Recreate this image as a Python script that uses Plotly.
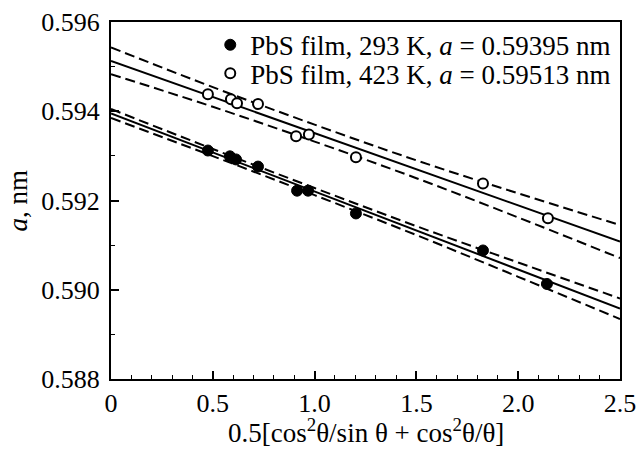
import plotly.graph_objects as go

# Data
x_293 = [0.476, 0.584, 0.614, 0.722, 0.914, 0.968, 1.203, 1.827, 2.141]
y_293 = [0.59312, 0.59299, 0.59292, 0.59276, 0.59222, 0.59222, 0.59171, 0.59088, 0.59013]
x_423 = [0.476, 0.589, 0.619, 0.722, 0.909, 0.972, 1.203, 1.827, 2.146]
y_423 = [0.59438, 0.59427, 0.59418, 0.59416, 0.59344, 0.59348, 0.59297, 0.59238, 0.59160]

# Fit lines (endpoints) and confidence band values
fit_x = [0.0, 2.5]
fit_293 = [0.59395, 0.58958]
fit_423 = [0.59513, 0.59108]
band_x = [0.0, 0.5, 1.0, 1.5, 2.0, 2.5]
band_293_hi = [0.59405, 0.593155, 0.59228, 0.591425, 0.59061, 0.589805]
band_293_lo = [0.59385, 0.592995, 0.59212, 0.591225, 0.59029, 0.589345]
band_423_hi = [0.59543, 0.59454, 0.59370, 0.59290, 0.59216, 0.59145]
band_423_lo = [0.59483, 0.59410, 0.59332, 0.59250, 0.59162, 0.59071]

x_ticks = [0, 0.5, 1.0, 1.5, 2.0, 2.5]
x_ticktext = ["0", "0.5", "1.0", "1.5", "2.0", "2.5"]
y_ticks = [0.588, 0.590, 0.592, 0.594, 0.596]
y_ticktext = ["0.588", "0.590", "0.592", "0.594", "0.596"]
x_title = "0.5[cos<sup>2</sup>θ/sin θ + cos<sup>2</sup>θ/θ]"
y_title = "<i>a</i>, nm"

FONT = "'Liberation Serif', 'Times New Roman', 'DejaVu Serif', serif"
fig = go.Figure()

dash_style = dict(color="black", width=2, dash="10px,5px")
for xs, ys in [(band_x, band_293_hi), (band_x, band_293_lo),
               (band_x, band_423_hi), (band_x, band_423_lo)]:
    fig.add_trace(go.Scatter(x=xs, y=ys, mode="lines", line=dict(shape="spline", **dash_style),
                             showlegend=False, hoverinfo="skip"))
for ys in [fit_293, fit_423]:
    fig.add_trace(go.Scatter(x=fit_x, y=ys, mode="lines", line=dict(color="black", width=2),
                             showlegend=False, hoverinfo="skip"))

fig.add_trace(go.Scatter(x=x_293, y=y_293, mode="markers",
                         marker=dict(symbol="circle", size=11, color="black",
                                     line=dict(color="black", width=1)),
                         name="PbS film, 293 K, <i>a</i> = 0.59395 nm", legend="legend"))
fig.add_trace(go.Scatter(x=x_423, y=y_423, mode="markers",
                         marker=dict(symbol="circle", size=10, color="white",
                                     line=dict(color="black", width=2)),
                         name="PbS film, 423 K, <i>a</i> = 0.59513 nm", legend="legend2"))

leg_common = dict(xanchor="left", yanchor="middle", bgcolor="rgba(0,0,0,0)",
                  font=dict(family=FONT, size=27, color="black"),
                  itemwidth=30, borderwidth=0)
fig.update_layout(
    width=638, height=450,
    margin=dict(l=111, r=18, t=22, b=71, autoexpand=False),
    plot_bgcolor="white", paper_bgcolor="white",
    font=dict(family=FONT, size=26, color="black"),
    legend=dict(x=0.195, y=0.935, **leg_common),
    legend2=dict(x=0.195, y=0.855, **leg_common),
    showlegend=True,
    annotations=[
        dict(text=x_title, xref="paper", yref="paper", x=0.5, y=0, xanchor="center",
             yanchor="top", yshift=-33, showarrow=False, font=dict(family=FONT, size=27)),
        dict(text=y_title, xref="paper", yref="paper", x=0, y=0.5, xanchor="center",
             yanchor="middle", xshift=-94, textangle=-90, showarrow=False,
             font=dict(family=FONT, size=27)),
    ],
)
fig.update_xaxes(range=[0, 2.5], tickvals=x_ticks, ticktext=x_ticktext,
                 tickfont=dict(family=FONT, size=26),
                 ticks="inside", ticklen=8, tickwidth=1.5, tickcolor="black",
                 minor=dict(dtick=0.1, ticks="inside", ticklen=4, tickcolor="black", tickwidth=1.2),
                 showline=True, linecolor="black", linewidth=2, mirror=True,
                 showgrid=False, zeroline=False, automargin=False)
fig.update_yaxes(range=[0.588, 0.596], tickvals=y_ticks, ticktext=y_ticktext,
                 tickfont=dict(family=FONT, size=26), ticklabelstandoff=4,
                 ticks="inside", ticklen=8, tickwidth=1.5, tickcolor="black",
                 minor=dict(dtick=0.001, ticks="inside", ticklen=4, tickcolor="black", tickwidth=1.2),
                 showline=True, linecolor="black", linewidth=2, mirror=True,
                 showgrid=False, zeroline=False, automargin=False)

fig.write_html("out.html", config={"displayModeBar": False},
               post_script="document.body.style.margin='0';document.body.style.overflow='hidden';")
